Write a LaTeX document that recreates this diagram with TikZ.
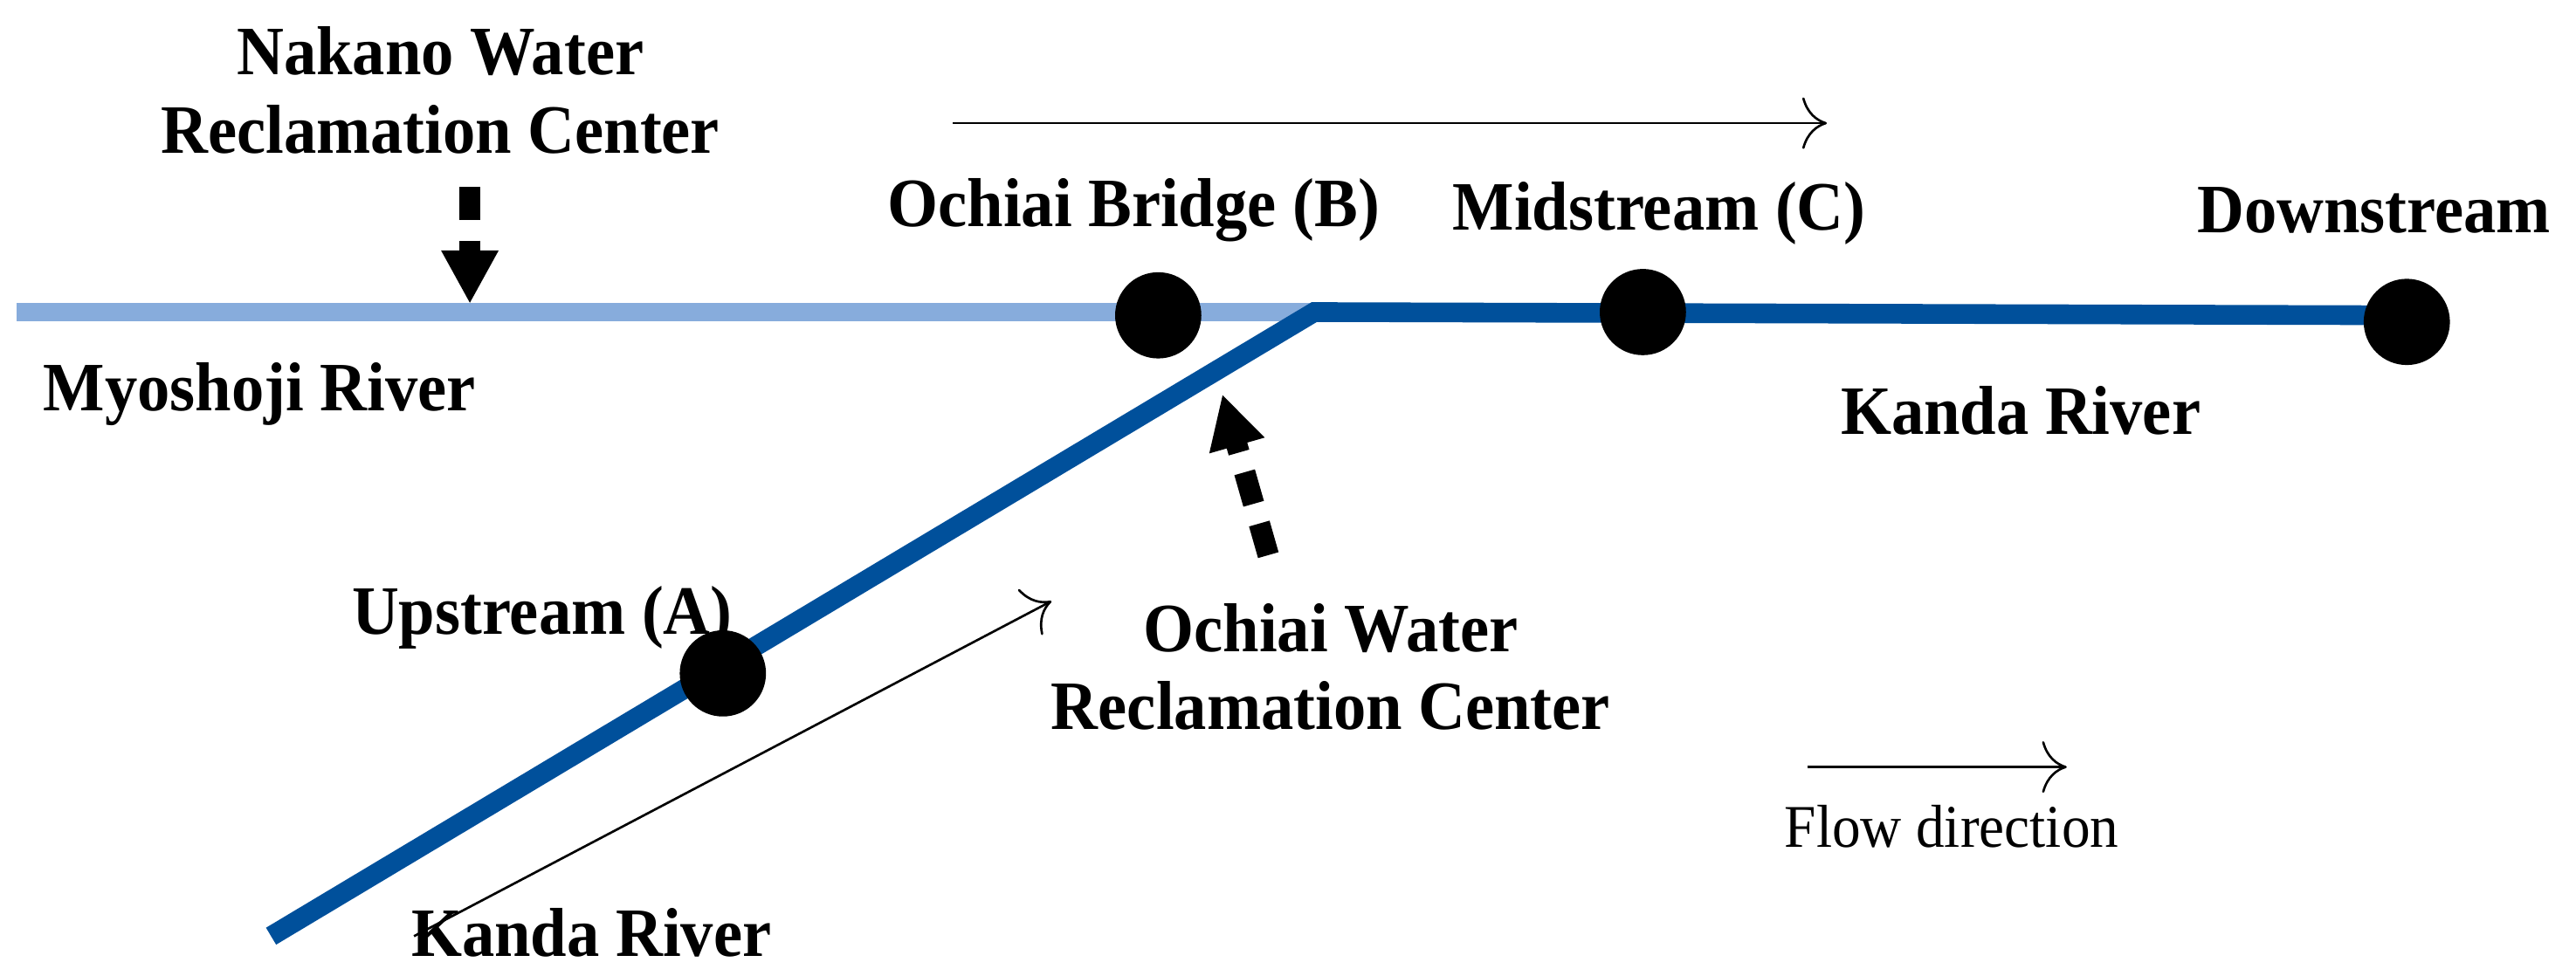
\documentclass[tikz,border=0pt]{standalone}
\usepackage{fontspec}
\setmainfont{Liberation Serif}[FakeStretch=0.94]
\usetikzlibrary{arrows.meta,positioning}
\definecolor{kanda}{RGB}{0,80,155}
\definecolor{myoshoji}{RGB}{135,172,220}
\tikzset{site/.style={circle, fill=black, minimum size=1.05cm, inner sep=0pt},
  lbl/.style={font=\fontsize{24}{27}\selectfont\bfseries, align=center, inner sep=0pt},
  inflow/.style={line width=2.6mm, dash pattern=on 4mm off 2.5mm, -{Triangle[length=6.5mm,width=6.5mm]}},
  flow/.style={thick, -{To[length=3mm]}}}
\begin{document}
\begin{tikzpicture}[x=0.02cm, y=-0.02cm]
  \useasboundingbox (0,0) rectangle (1568,594);
  % rivers
  \coordinate (M0) at (10,190);
  \coordinate (J) at (800,190);
  \coordinate (K0) at (165,570);
  \coordinate (K1) at (1470,192);
  \draw[myoshoji, line width=2.2mm] (M0) -- (J);
  \draw[kanda, line width=2.4mm] (K0) -- (J) -- (K1);
  % sampling sites
  \node[site] (B) at (705,192) {};
  \node[site] (C) at (1000,190) {};
  \node[site] (D) at (1465,196) {};
  \node[site] (A) at (440,410) {};
  % labels
  \node[lbl] (nakano) at (268,55) {Nakano Water\\Reclamation Center};
  \node[lbl] (myo) at (158,240) {Myoshoji River};
  \node[lbl] (lB) at (690,128) {Ochiai Bridge (B)};
  \node[lbl] (lC) at (1010,130) {Midstream (C)};
  \node[lbl] (lD) at (1445,128) {Downstream};
  \node[lbl] (kanda1) at (1230,250) {Kanda River};
  \node[lbl] (lA) at (330,376) {Upstream (A)};
  \node[lbl] (ochiai) at (810,406) {Ochiai Water\\Reclamation Center};
  \node[lbl] (kanda2) at (360,568) {Kanda River};
  \node[font=\fontsize{21}{25}\selectfont, inner sep=0pt] (flowtxt) at (1188,503) {Flow direction};
  % inflows
  \coordinate (n0) at (286,114);
  \coordinate (n1) at (286,185);
  \draw[inflow] (n0) -- (n1);
  \coordinate (o0) at (772,338);
  \coordinate (o1) at (744,240);
  \draw[inflow] (o0) -- (o1);
  % flow arrows
  \coordinate (f0) at (580,75);
  \coordinate (f1) at (1112,75);
  \draw[flow] (f0) -- (f1);
  \coordinate (g0) at (252,570);
  \coordinate (g1) at (640,366);
  \draw[flow] (g0) -- (g1);
  \coordinate (h0) at (1100,467);
  \coordinate (h1) at (1258,467);
  \draw[flow] (h0) -- (h1);
\end{tikzpicture}
\end{document}
